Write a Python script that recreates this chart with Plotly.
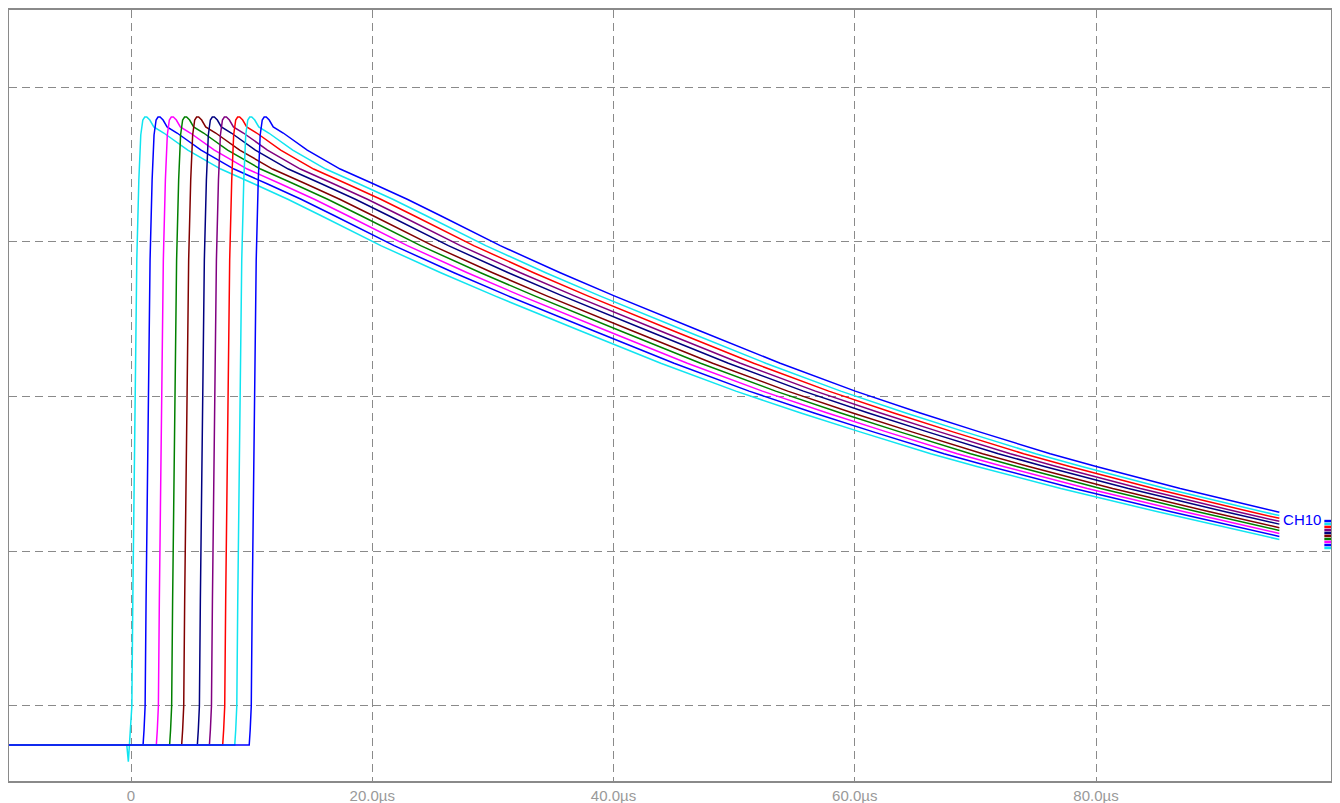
import numpy as np
import plotly.graph_objects as go

# ---- data ----
channels = ["CH1", "CH2", "CH3", "CH4", "CH5", "CH6", "CH7", "CH8", "CH9", "CH10"]
edge_times_us = [-0.1, 1.0, 2.1, 3.2, 4.2, 5.5, 6.5, 7.6, 8.6, 9.8]
channel_colors = ["#10E4F0", "#0000FF", "#FF00FF", "#008000", "#800000",
                  "#000080", "#800080", "#FF0000", "#10E4F0", "#0000FF"]

# pulse shape, time after the edge (us) and level (divisions)
pulse_t = [0.0, 0.08, 0.17, 0.25, 0.33, 0.41, 0.50, 0.58, 0.75, 0.91,
           1.08, 1.24, 1.41, 1.66, 1.99, 2.82, 4.81, 7.54, 10.28, 13.10,
           15.83, 20.81, 25.78, 30.26, 37.39, 44.02, 50.24, 55.63, 60.60, 66.40,
           70.22, 77.18, 85.22, 95.34]
pulse_v = [-0.252, -0.155, 0.0, 0.685, 1.331, 1.977, 2.494, 2.882, 3.399, 3.690,
           3.787, 3.806, 3.806, 3.787, 3.742, 3.703, 3.593, 3.470, 3.375, 3.275,
           3.170, 2.975, 2.800, 2.650, 2.423, 2.215, 2.035, 1.893, 1.770, 1.630,
           1.548, 1.405, 1.255, 1.075]

baseline_v = -0.252
record_start_us = -10.3
record_end_us = 95.2

# CH1 trigger glitch (time relative to its edge, level)
glitch_dt = [-0.25, -0.12]
glitch_v = [-0.252, -0.36]

# right-edge channel markers (levels, top = CH10 ... bottom = CH1)
marker_levels = [1.195, 1.176, 1.157, 1.137, 1.118, 1.099, 1.079, 1.060, 1.040, 1.021]

label_text = "CH10"
label_pos = (97.1, 1.195)

x_ticks = [0, 20, 40, 60, 80]
x_tick_text = ["0", "20.0µs", "40.0µs", "60.0µs", "80.0µs"]
y_ticks = [0, 1, 2, 3, 4]

# ---- figure ----
fig = go.Figure()
pt = np.array(pulse_t)
pv = np.array(pulse_v)
for i, (name, edge, col) in enumerate(zip(channels, edge_times_us, channel_colors)):
    t = edge + pt
    v = pv.copy()
    keep = t <= record_end_us
    end_v = float(np.interp(record_end_us, t, v))
    xs = [record_start_us]
    ys = [baseline_v]
    if i == 0:
        xs += [edge + d for d in glitch_dt]
        ys += list(glitch_v)
        xs += list(t[keep][2:])
        ys += list(v[keep][2:])
    else:
        xs += list(t[keep])
        ys += list(v[keep])
    xs.append(record_end_us)
    ys.append(end_v)
    fig.add_trace(go.Scatter(x=xs, y=ys, mode="lines", name=name,
                             line=dict(color=col, width=1.5), hoverinfo="skip"))

fig.add_trace(go.Scatter(
    x=[99.45] * len(marker_levels), y=marker_levels, mode="markers",
    marker=dict(symbol="line-ew", size=9, color=channel_colors[::-1],
                line=dict(width=2.5, color=channel_colors[::-1])),
    cliponaxis=False, showlegend=False, hoverinfo="skip"))

fig.add_trace(go.Scatter(
    x=[label_pos[0]], y=[label_pos[1]], mode="text", text=[label_text],
    textfont=dict(color="#0000FF", size=15, family="Liberation Sans, Arial"),
    cliponaxis=False, showlegend=False, hoverinfo="skip"))

# the page body adds an 8px margin, so the figure is 8px smaller than the window
fig.update_layout(
    width=1332, height=795,
    margin=dict(l=1, r=9, t=2, b=22, autoexpand=False),
    paper_bgcolor="white", plot_bgcolor="white",
    showlegend=False,
    font=dict(family="Liberation Sans, Arial", color="#999999", size=14),
)
fig.update_xaxes(
    range=[-10.114, 99.48], tickvals=x_ticks, ticktext=x_tick_text,
    showgrid=True, gridcolor="#8a8a8a", gridwidth=1, griddash="8px,5px",
    zeroline=False, showline=True, mirror=True, linecolor="#8a8a8a", linewidth=1.5,
    ticks="", tickfont=dict(color="#999999", size=15), ticklabelstandoff=0,
    automargin=False,
)
fig.update_yaxes(
    range=[-0.485, 4.498], tickvals=y_ticks, showticklabels=False,
    showgrid=True, gridcolor="#8a8a8a", gridwidth=1, griddash="8px,5px",
    zeroline=False, showline=True, mirror=True, linecolor="#8a8a8a", linewidth=1.5,
    ticks="", automargin=False,
)

fig.write_html("out.html")
